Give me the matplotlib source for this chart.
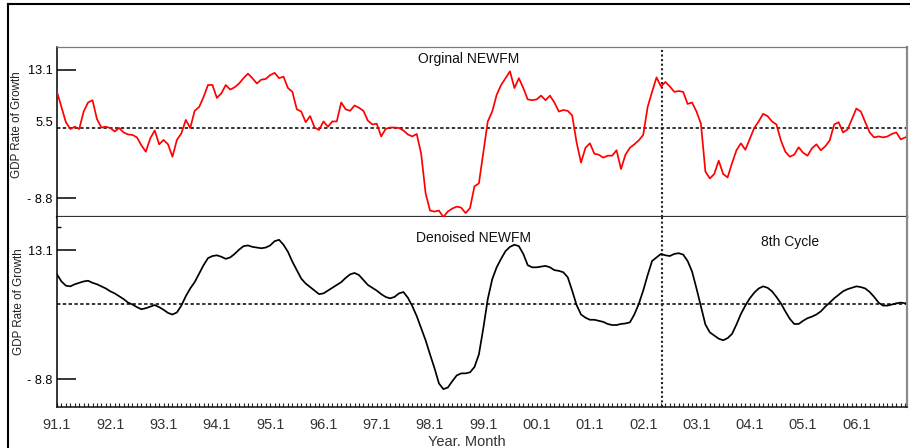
import numpy as np
import matplotlib
matplotlib.use("Agg")
import matplotlib.pyplot as plt
from matplotlib.lines import Line2D
from matplotlib.ticker import (FixedLocator, FixedFormatter, MultipleLocator,
                               NullLocator, NullFormatter)

plt.rcParams['font.family'] = ['Liberation Sans', 'DejaVu Sans']

# Monthly index: 0 = 1991.1 ... 191 = 2006.12
months = np.arange(192)
year_ticks = np.arange(0, 192, 12)
year_labels = ['91.1', '92.1', '93.1', '94.1', '95.1', '96.1', '97.1', '98.1',
               '99.1', '00.1', '01.1', '02.1', '03.1', '04.1', '05.1', '06.1']

# Original monthly GDP growth rate
original = [
    10.2, 8.2, 6.2, 5.2, 5.6, 5.2, 7.6, 8.8, 9.1, 6.6, 5.5, 5.6, 5.4, 4.7, 5.4, 4.5,
    4.1, 4.0, 3.5, 1.9, 0.6, 3.3, 4.9, 2.1, 3.0, 2.1, -0.4, 3.0, 4.3, 6.5, 5.4, 7.7,
    8.2, 9.5, 11.1, 11.1, 9.4, 10.0, 11.1, 10.5, 10.8, 11.3, 12.0, 12.6, 12.0, 11.3, 11.8, 11.9,
    12.4, 12.7, 12.0, 12.2, 10.7, 10.2, 7.9, 7.6, 6.2, 7.0, 5.5,
    5.0, 6.3, 5.6, 6.3, 6.3, 8.8, 7.9, 7.7, 8.4, 8.1, 7.7, 6.4, 5.9, 6.0, 3.7, 5.2,
    5.5, 5.5, 5.4, 4.9, 4.1, 3.7, 4.2, 0.2, -7.8, -11.3, -11.5, -11.3, -12.6, -11.5, -10.9, -10.5,
    -10.7, -11.8, -10.8, -6.4, -5.8, 0.5, 6.3, 7.6, 9.8, 11.1, 12.0, 12.9, 10.7, 12.0, 10.7, 9.2,
    9.1, 9.2, 9.7, 9.1, 9.7, 8.8, 7.6, 7.8, 7.7, 7.1, 2.5, -1.6, 1.4, 2.3, 0.2, 0.0,
    -0.6, -0.2, -0.2, 0.9,
    -2.9, 0.0, 1.4, 2.1, 2.9, 4.0, 8.2, 10.2, 12.1, 10.9, 11.5, 10.9, 10.2, 10.3, 10.2, 8.6,
    8.8, 7.6, 6.0, -3.4, -4.8, -3.9, -1.2, -3.9, -4.6, -1.7, 0.9, 2.3, 1.0, 3.2, 5.4, 6.3,
    7.3, 7.0, 6.3, 5.9, 2.9, 0.6, -0.4, 0.0, 1.5, 0.4, -0.2, 1.3, 2.1, 0.9, 1.7, 2.9,
    5.9, 6.2, 4.5, 5.1, 6.6, 8.0, 7.6, 6.2, 4.5, 3.5, 3.7, 3.5, 3.7, 4.2, 4.5, 3.1, 3.5,
]

# Wavelet-denoised series
denoised = [
    9.7, 8.7, 8.1, 8.0, 8.3, 8.5, 8.7, 8.8, 8.5, 8.3, 8.0, 7.7, 7.3, 7.0, 6.6, 6.2, 5.7, 5.4, 4.9, 4.5,
    4.7, 5.0, 5.3, 4.9, 4.4, 3.8, 3.5, 3.9, 5.2, 6.6, 7.7, 8.6, 9.8, 11.0, 12.0, 12.3, 12.4, 12.2, 11.9, 12.1,
    12.6, 13.2, 13.7, 13.8, 13.6, 13.5, 13.4, 13.5, 13.8, 14.4, 14.6, 13.9, 12.9, 11.5, 10.3, 9.1, 8.4, 7.9, 7.4, 6.9,
    7.0, 7.4, 7.8, 8.2, 8.6, 9.2, 9.7, 9.9, 9.6, 8.9, 8.2, 7.8, 7.4, 6.9, 6.5, 6.3, 6.5, 7.0, 7.2, 6.4,
    5.1, 3.2, 0.9, -1.4, -4.1, -6.7, -9.6, -10.7, -10.4, -9.2, -8.1, -7.7, -7.7, -7.5, -6.5, -4.1, 0.9, 6.2, 9.0, 10.7,
    11.9, 13.0, 13.6, 13.9, 13.7, 12.6, 11.0, 10.7, 10.7, 10.8, 10.9, 10.7, 10.3, 10.2, 10.0, 9.3, 7.4, 5.3, 3.5, 2.9,
    2.5, 2.5, 2.3, 2.1, 1.7, 1.5, 1.5, 1.7, 1.8, 2.0, 3.5, 5.5, 7.4, 9.6, 11.6, 12.1, 12.6, 12.4, 12.3, 12.6,
    12.7, 12.5, 11.6, 10.1, 7.7, 5.0, 1.6, 0.1, -0.5, -1.1, -1.4, -1.0, -0.2, 1.6, 3.6, 5.2, 6.3, 7.1, 7.7, 8.0,
    7.8, 7.3, 6.5, 5.6, 4.1, 2.7, 1.7, 1.7, 2.3, 2.8, 3.1, 3.5, 4.1, 5.0, 5.7, 6.3, 6.8, 7.3, 7.6, 7.8,
    8.0, 7.9, 7.7, 7.2, 6.5, 5.7, 5.2, 5.2, 5.4, 5.6, 5.7, 5.6,
]

mean_level = 5.5
cycle_peak = 136.3
y_ticks = [13.1, -8.8]
y_tick_labels = ['13.1', '- 8.8']
upper_minor_tick = 16.35

W, H = 910, 448
fig = plt.figure(figsize=(W / 100, H / 100), dpi=100)


def split_scale(up, down, pivot=mean_level):
    """Axis that stretches values above the pivot differently from those below."""
    def fwd(v):
        v = np.asarray(v, dtype=float)
        return np.where(v >= pivot, (v - pivot) * up, (v - pivot) * down)

    def inv(u):
        u = np.asarray(u, dtype=float)
        return np.where(u >= 0, u / up + pivot, u / down + pivot)
    return fwd, inv


def px_axes(x0, y0, x1, y1):
    return fig.add_axes([x0 / W, 1 - y1 / H, (x1 - x0) / W, (y1 - y0) / H])


ax1 = px_axes(57, 47.5, 907, 217.5)
ax2 = px_axes(57, 217.5, 907, 407)

ax1.set_yscale('function', functions=split_scale(7.59, 4.944))
ax1.set_ylim(-12.7, 16.04)
ax2.set_yscale('function', functions=split_scale(7.07, 5.266))
ax2.set_ylim(-14.1, 17.76)

for ax in (ax1, ax2):
    ax.set_xlim(0, 191.4)
    ax.axhline(mean_level, color='black', lw=1.1, ls=(0, (2.2, 1.6)), zorder=1)
    ax.axvline(cycle_peak, color='#222222', lw=1.5, ls=(0, (1.0, 1.2)), zorder=1)
    ax.yaxis.set_major_locator(FixedLocator(y_ticks))
    ax.yaxis.set_major_formatter(FixedFormatter(y_tick_labels))
    ax.yaxis.set_minor_formatter(NullFormatter())
    ax.tick_params(axis='y', which='major', direction='in', length=13.7, width=1.1,
                   labelsize=9.2, pad=3, colors='black')
    ax.spines['left'].set_color('black')
    ax.spines['left'].set_linewidth(1.1)
    ax.spines['right'].set_color('#8a8a8a')
    ax.spines['right'].set_linewidth(1.6)

ax1.plot(months, original, color='#ff0000', lw=1.25, zorder=3)
ax2.plot(months, denoised, color='black', lw=1.25, zorder=3)

ax1.yaxis.set_minor_locator(NullLocator())
ax1.annotate('5.5', xy=(0, mean_level), xycoords=('axes fraction', 'data'),
             xytext=(-4, 4.5), textcoords='offset pixels', ha='right', va='center',
             fontsize=9.2, color='black')
ax1.spines['top'].set_color('#7a7a7a')
ax1.spines['top'].set_linewidth(0.9)
ax1.spines['bottom'].set_color('#333333')
ax1.spines['bottom'].set_linewidth(1.6)
ax1.set_xticks([])

ax2.yaxis.set_minor_locator(FixedLocator([upper_minor_tick]))
ax2.tick_params(axis='y', which='minor', direction='in', length=3.2, width=1.0,
                color='black', labelleft=False)
ax2.spines['top'].set_visible(False)
ax2.spines['bottom'].set_color('#222222')
ax2.spines['bottom'].set_linewidth(1.2)
ax2.xaxis.set_major_locator(FixedLocator(year_ticks))
ax2.xaxis.set_major_formatter(FixedFormatter(year_labels))
ax2.xaxis.set_minor_locator(MultipleLocator(1))
ax2.tick_params(axis='x', which='both', direction='in', length=3, width=0.8,
                top=False, color='#222222')
ax2.tick_params(axis='x', which='major', labelsize=10.5, pad=8, labelcolor='#333333')


def ftext(x, y, s, **kw):
    fig.text(x / W, 1 - y / H, s, ha='center', va='center', **kw)


ftext(468.7, 59, 'Orginal NEWFM', fontsize=10, color='#111111')
ftext(473, 237.7, 'Denoised NEWFM', fontsize=10, color='#111111')
ftext(790.5, 241.7, '8th Cycle', fontsize=10, color='#111111')
ftext(17, 125, 'GDP Rate of Growth', rotation=90, fontsize=8.4, color='#222222')
ftext(19, 302, 'GDP Rate of Growth', rotation=90, fontsize=8.4, color='#222222')
ftext(467, 442, 'Year. Month', fontsize=10.5, color='#333333')

# Outer frame on the left and top of the figure
fig.add_artist(Line2D([8 / W, 8 / W], [1 - 4 / H, 0], transform=fig.transFigure,
                      color='black', lw=1.5))
fig.add_artist(Line2D([8 / W, 1], [1 - 4 / H, 1 - 4 / H], transform=fig.transFigure,
                      color='black', lw=1.5))

fig.savefig('out.png', dpi=100)
